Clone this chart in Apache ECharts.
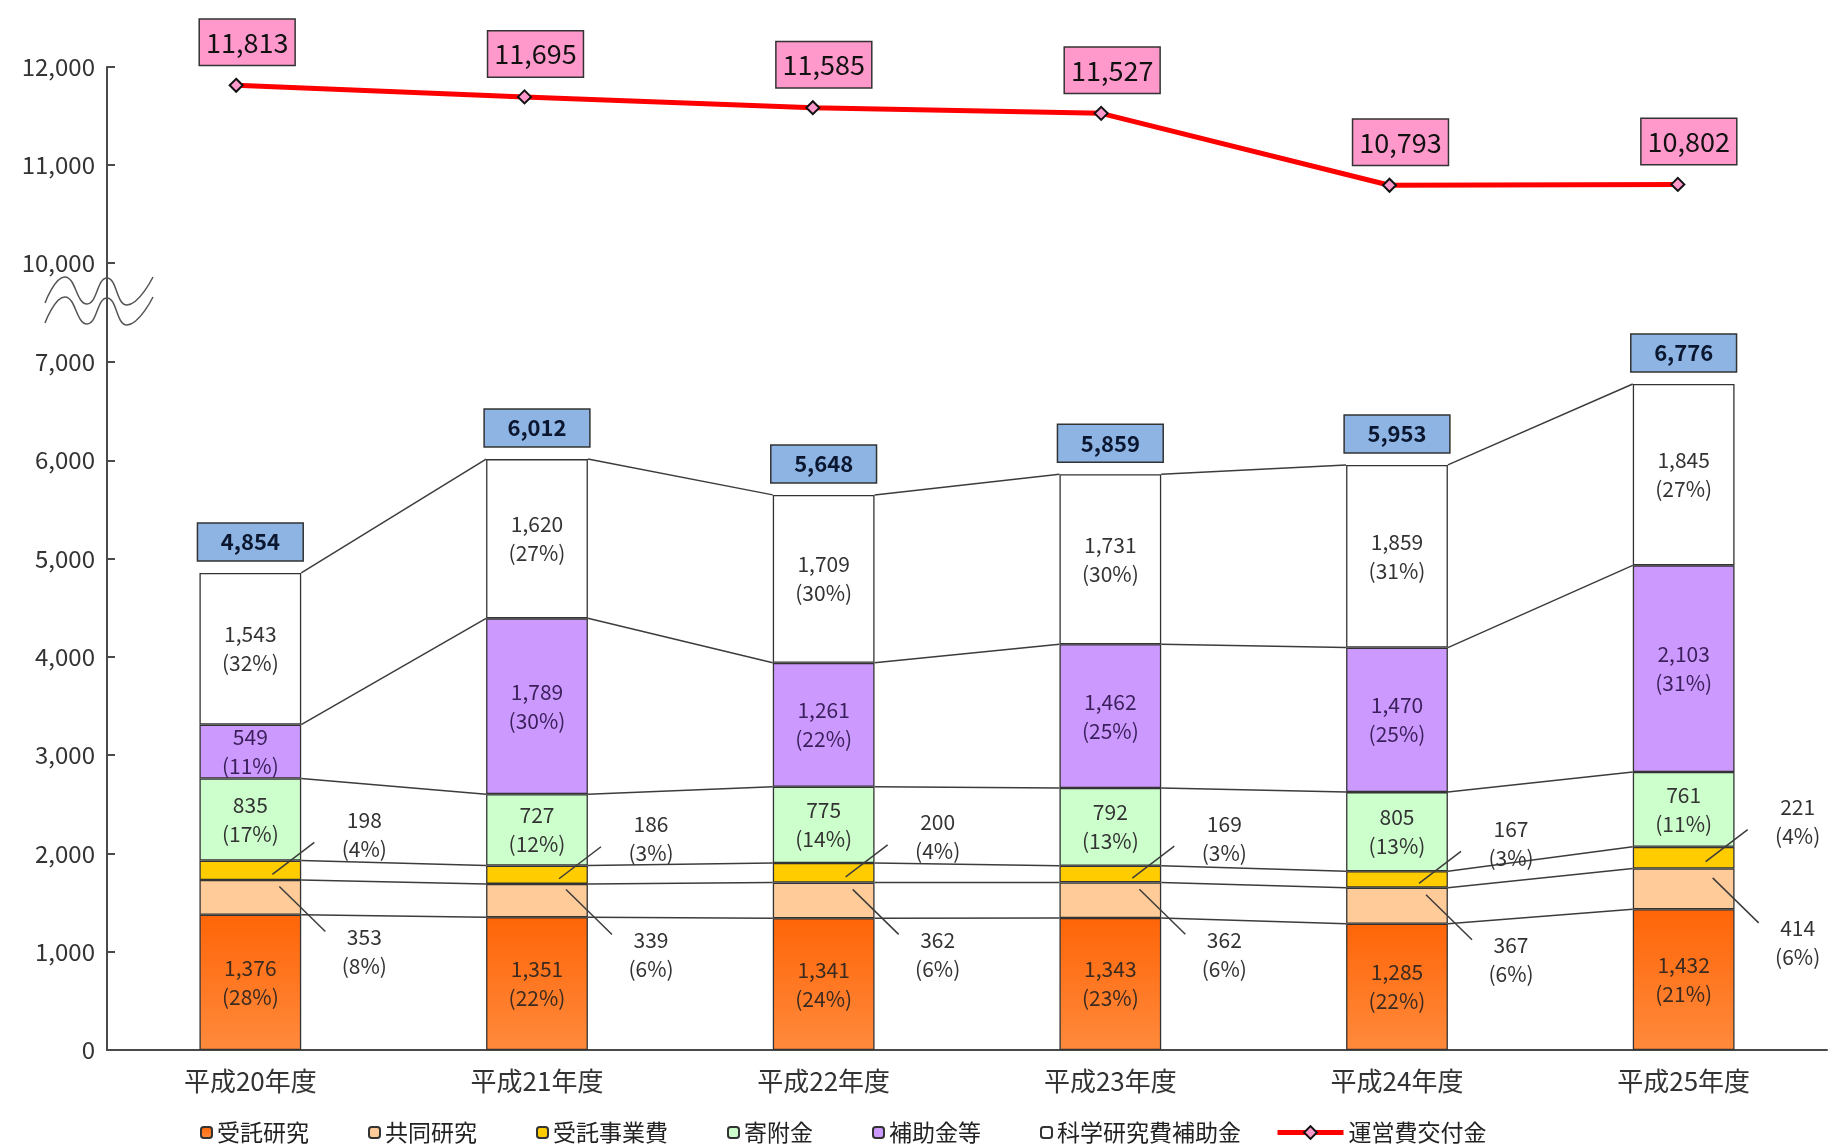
<!DOCTYPE html>
<html><head><meta charset="utf-8">
<script src="https://cdn.jsdelivr.net/npm/echarts@6/dist/echarts.min.js"></script>
<style>html,body{margin:0;padding:0;background:#fff}#c{width:1840px;height:1145px}</style>
</head><body><div id="c"></div>
<script>
// ---- data ----
const categories = ['平成20年度','平成21年度','平成22年度','平成23年度','平成24年度','平成25年度'];
const itakuKenkyu    = [1376, 1351, 1341, 1343, 1285, 1432];
const itakuKenkyuPct = [28, 22, 24, 23, 22, 21];
const kyodoKenkyu    = [353, 339, 362, 362, 367, 414];
const kyodoKenkyuPct = [8, 6, 6, 6, 6, 6];
const itakuJigyo     = [198, 186, 200, 169, 167, 221];
const itakuJigyoPct  = [4, 3, 4, 3, 3, 4];
const kifukin        = [835, 727, 775, 792, 805, 761];
const kifukinPct     = [17, 12, 14, 13, 13, 11];
const hojokin        = [549, 1789, 1261, 1462, 1470, 2103];
const hojokinPct     = [11, 30, 22, 25, 25, 31];
const kakenhi        = [1543, 1620, 1709, 1731, 1859, 1845];
const kakenhiPct     = [32, 27, 30, 30, 31, 27];
const totals         = [4854, 6012, 5648, 5859, 5953, 6776];
const uneihi         = [11813, 11695, 11585, 11527, 10793, 10802];
const lowerAxis = {min: 0, max: 7000, interval: 1000};
const upperAxis = {min: 10000, max: 12000, interval: 1000};

const FONT = "'Noto Sans CJK JP', 'Noto Sans', sans-serif";
const fmt = v => Number(v).toLocaleString('en-US');
const stackSeries = [itakuKenkyu, kyodoKenkyu, itakuJigyo, kifukin, hojokin, kakenhi];
const cum = (level, i) => { let s = 0; for (let k = 0; k < level; k++) s += stackSeries[k][i]; return s; };
const BAR_RATIO = 0.355;

const chart = echarts.init(document.getElementById('c'), null, {renderer: 'canvas'});

function barSeries(name, data, pct, color, labelShow, labelColor) {
  return {
    name, type: 'bar', stack: 'total', xAxisIndex: 0, yAxisIndex: 0,
    barWidth: (BAR_RATIO * 100) + '%',
    data,
    itemStyle: {color, borderColor: '#333', borderWidth: 1.3},
    label: {
      show: labelShow, position: 'inside', fontSize: 21, lineHeight: 29,
      color: labelColor || '#333', fontFamily: FONT,
      formatter: p => fmt(p.value) + '\n(' + pct[p.dataIndex] + '%)'
    },
    emphasis: {disabled: true}
  };
}

const orangeGrad = new echarts.graphic.LinearGradient(0, 0, 0, 1, [
  {offset: 0, color: '#FF6508'}, {offset: 1, color: '#FF8A3C'}
]);

const axisLineStyle = {color: '#4a4a4a', width: 2};

const option = {
  animation: false,
  backgroundColor: '#fff',
  textStyle: {fontFamily: FONT},
  grid: [
    {left: 107, right: 13, top: 362, bottom: 95},
    {left: 92, right: 18, top: 67, bottom: 1145 - 263}
  ],
  xAxis: [
    {
      type: 'category', gridIndex: 0, data: categories,
      axisLine: {lineStyle: axisLineStyle},
      axisTick: {inside: true, length: 9, lineStyle: axisLineStyle},
      axisLabel: {fontSize: 26, color: '#333', margin: 18, fontFamily: FONT}
    },
    {type: 'category', gridIndex: 1, data: categories, show: false}
  ],
  yAxis: [
    {
      type: 'value', gridIndex: 0, min: lowerAxis.min, max: lowerAxis.max, interval: lowerAxis.interval,
      axisLine: {show: true, lineStyle: axisLineStyle},
      axisTick: {show: true, inside: true, length: 8, lineStyle: axisLineStyle},
      axisLabel: {fontSize: 24, color: '#333', margin: 12, formatter: v => fmt(v)},
      splitLine: {show: false}
    },
    {
      type: 'value', gridIndex: 1, min: upperAxis.min, max: upperAxis.max, interval: upperAxis.interval,
      offset: -15,
      axisLine: {show: true, lineStyle: axisLineStyle},
      axisTick: {show: true, inside: true, length: 8, lineStyle: axisLineStyle},
      axisLabel: {fontSize: 24, color: '#333', margin: 12, formatter: v => fmt(v)},
      splitLine: {show: false}
    }
  ],
  legend: [
    {
      data: ['受託研究', '共同研究', '受託事業費', '寄附金', '補助金等', '科学研究費補助金'],
      left: 195, top: 1116, itemWidth: 11, itemHeight: 11, itemGap: 59,
      textStyle: {fontSize: 23, color: '#222', fontFamily: FONT}, selectedMode: false
    },
    {
      data: ['運営費交付金'],
      left: 1270, top: 1116, itemWidth: 66, itemHeight: 16,
      lineStyle: {width: 5, color: '#FF0000'},
      textStyle: {fontSize: 23, color: '#222', fontFamily: FONT}, selectedMode: false
    }
  ],
  graphic: [
    {type: 'line', shape: {x1: 107, y1: 263, x2: 107, y2: 362}, style: {stroke: '#4a4a4a', lineWidth: 2}, z: 10},
    {type: 'polyline', shape: {points: [[45,303],[65,277],[87,304],[107,278],[127,305],[153,277]], smooth: 0.5}, style: {stroke: '#555', lineWidth: 1.5, fill: null}, z: 10},
    {type: 'polyline', shape: {points: [[45,323],[65,297],[87,324],[107,298],[127,325],[153,297]], smooth: 0.5}, style: {stroke: '#555', lineWidth: 1.5, fill: null}, z: 10}
  ],
  series: [
    barSeries('受託研究', itakuKenkyu, itakuKenkyuPct, orangeGrad, true, '#3a2a20'),
    barSeries('共同研究', kyodoKenkyu, kyodoKenkyuPct, '#FFCC99', false),
    barSeries('受託事業費', itakuJigyo, itakuJigyoPct, '#FFCC00', false),
    barSeries('寄附金', kifukin, kifukinPct, '#CCFFCC', true),
    barSeries('補助金等', hojokin, hojokinPct, '#CC99FF', true, '#3a1f5a'),
    barSeries('科学研究費補助金', kakenhi, kakenhiPct, '#FFFFFF', true),
    {
      type: 'custom', xAxisIndex: 0, yAxisIndex: 0, z: 5, clip: false, silent: true,
      data: categories.map((c, i) => [i, 0]),
      encode: {x: 0, y: 1},
      renderItem: (params, api) => {
        const i = api.value(0);
        const cx = api.coord([i, 0])[0];
        const band = api.size([1, 0])[0];
        const bw = band * BAR_RATIO;
        const Y = v => api.coord([i, v])[1];
        const children = [];
        const ls = {stroke: '#3c3c3c', lineWidth: 1.5};
        if (i < categories.length - 1) {
          const nx = api.coord([i + 1, 0])[0];
          for (let k = 1; k <= 6; k++) {
            children.push({type: 'line', shape: {x1: cx + bw / 2, y1: Y(cum(k, i)), x2: nx - bw / 2, y2: api.coord([i + 1, cum(k, i + 1)])[1]}, style: ls});
          }
        }
        // total box
        const ty = Y(totals[i]);
        children.push({type: 'rect', shape: {x: cx - bw / 2 - 2, y: ty - 12 - 38, width: bw + 4, height: 38},
          style: {fill: '#8DB4E2', stroke: '#333', lineWidth: 1.5}});
        children.push({type: 'text', x: cx, y: ty - 12 - 19,
          style: {text: fmt(totals[i]), fill: '#0b1730', fontSize: 22, fontWeight: 'bold', fontFamily: FONT, align: 'center', verticalAlign: 'middle'}});
        // 受託事業費 outside label
        const gy = Y(cum(2, i) + itakuJigyo[i] / 2);
        children.push({type: 'line', shape: {x1: cx + 22, y1: gy + 4, x2: cx + 64, y2: gy - 28}, style: ls});
        children.push({type: 'text', x: cx + 114, y: gy - 36,
          style: {text: fmt(itakuJigyo[i]) + '\n(' + itakuJigyoPct[i] + '%)', fill: '#333', fontSize: 21, lineHeight: 29, fontFamily: FONT, align: 'center', verticalAlign: 'middle'}});
        // 共同研究 outside label
        const py = Y(cum(1, i) + kyodoKenkyu[i] / 2);
        children.push({type: 'line', shape: {x1: cx + 29, y1: py - 11, x2: cx + 75, y2: py + 34}, style: ls});
        children.push({type: 'text', x: cx + 114, y: py + 54,
          style: {text: fmt(kyodoKenkyu[i]) + '\n(' + kyodoKenkyuPct[i] + '%)', fill: '#333', fontSize: 21, lineHeight: 29, fontFamily: FONT, align: 'center', verticalAlign: 'middle'}});
        return {type: 'group', children};
      }
    },
    {
      name: '運営費交付金', type: 'line', xAxisIndex: 1, yAxisIndex: 1, data: uneihi,
      symbol: 'diamond', symbolSize: 13,
      lineStyle: {color: '#FF0000', width: 5},
      itemStyle: {color: '#FF99CC', borderColor: '#111', borderWidth: 2},
      label: {
        show: true, position: 'top', distance: 13, offset: [11, 0],
        fontSize: 27, color: '#111', fontFamily: FONT,
        backgroundColor: '#FF99CC', borderColor: '#333', borderWidth: 1.5,
        padding: [9, 6], formatter: p => fmt(p.value)
      },
      z: 6,
      emphasis: {disabled: true}
    }
  ]
};
chart.setOption(option);
</script>
</body></html>
